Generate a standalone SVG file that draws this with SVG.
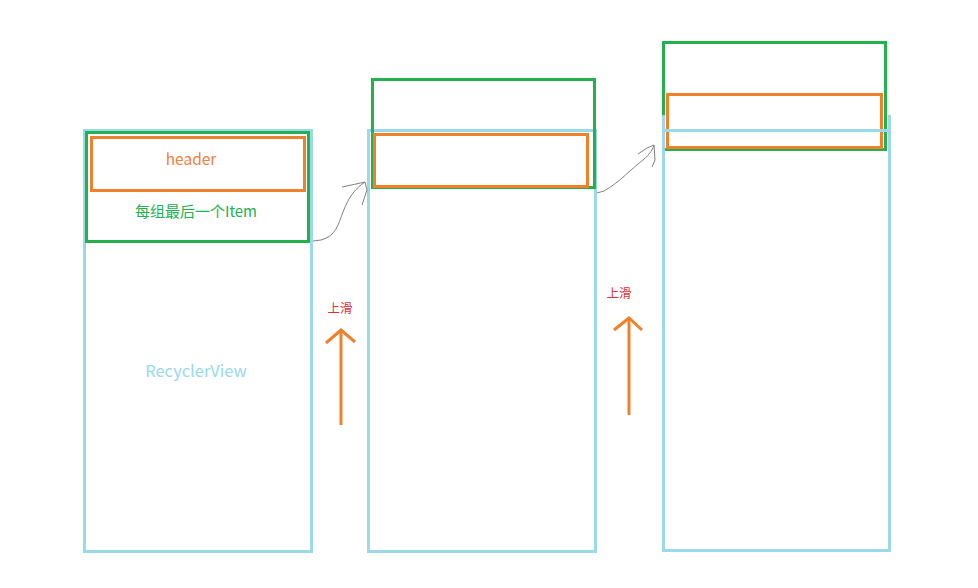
<svg xmlns="http://www.w3.org/2000/svg" width="978" height="588" viewBox="0 0 978 588">
<style>
.blue{fill:none;stroke:#99D9EA;stroke-width:3}
.green{fill:none;stroke:#22B14C;stroke-width:3}
.orange{fill:none;stroke:#F0802A;stroke-width:3}
.conn{fill:none;stroke:#808080;stroke-width:1}
.up{fill:none;stroke:#F0802A;stroke-width:3}
text{font-family:"Noto Sans CJK SC","Liberation Sans",sans-serif;text-anchor:middle}
.red{fill:#E0303A;font-size:12.5px}
</style>
<rect width="978" height="588" fill="#fff"/>
<g id="panel1">
<rect class="blue" x="84.5" y="130.5" width="227" height="421"/>
<rect class="green" x="86.5" y="132.5" width="222" height="109"/>
<rect class="orange" x="91.5" y="137.5" width="213" height="53"/>
<text x="191" y="165" fill="#F0803C" font-size="15.5">header</text>
<text x="196" y="217" fill="#22B14C" font-size="15">每组最后一个Item</text>
<text x="196" y="377" fill="#99D9EA" font-size="16.5">RecyclerView</text>
</g>
<g id="panel2">
<rect class="blue" x="368.5" y="130.5" width="227" height="421"/>
<rect class="green" x="372.5" y="79.5" width="222" height="108"/>
<rect class="orange" x="374.5" y="134.5" width="213" height="52"/>
</g>
<g id="panel3">
<rect class="green" x="663.5" y="42.5" width="222" height="107"/>
<rect class="orange" x="667.5" y="94.5" width="214" height="53"/>
<line class="blue" x1="663.5" y1="115" x2="663.5" y2="550"/>
<line class="blue" x1="889.5" y1="115" x2="889.5" y2="550"/>
<rect class="blue" x="663.5" y="130.5" width="226" height="420"/>
</g>
<g id="swipe1">
<text class="red" x="340" y="313">上滑</text>
<line class="up" x1="341" y1="425" x2="341" y2="331"/>
<polyline class="up" points="326,343 341,330 355,342"/>
</g>
<g id="swipe2">
<text class="red" x="619" y="298">上滑</text>
<line class="up" x1="629" y1="415" x2="629" y2="319"/>
<polyline class="up" points="614,330 629,318 642,330"/>
</g>
<g id="connectors">
<path class="conn" d="M313,241 L321,240 C336,236 338,225 343,212 C349,196 356,188 365,182"/>
<path class="conn" d="M342,187 L356,184 L365,182 L367,190 L362,205"/>
<path class="conn" d="M597,193 L604,191 C620,182 632,168 643,160 C650,154 653,149 654,145"/>
<path class="conn" d="M638,154 L647,148 L654,145 L655,160 L652,167"/>
</g>
</svg>
